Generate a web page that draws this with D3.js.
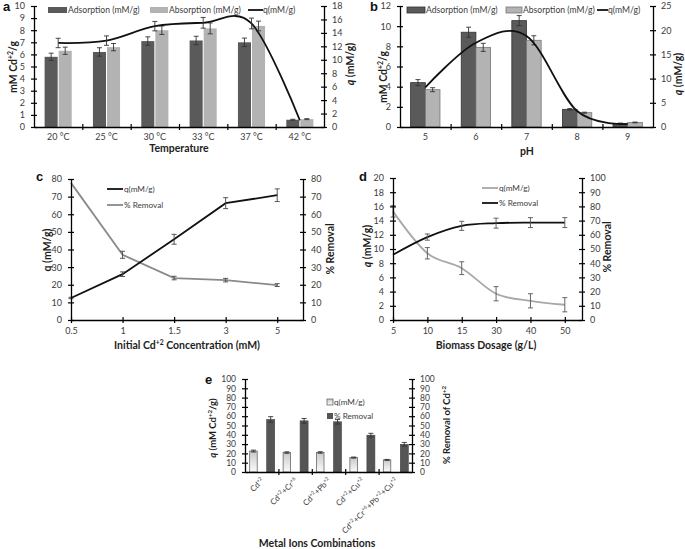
<!DOCTYPE html>
<html><head><meta charset="utf-8">
<script src="https://cdn.jsdelivr.net/npm/d3@7"></script>
<style>
body{margin:0;background:#fff;}
svg{display:block;}
</style></head><body>
<svg id="chart" width="685" height="549"></svg>
<script>
// ---------------- DATA ----------------
const tempCats = ["20 °C","25 °C","30 °C","33 °C","37 °C","42 °C"];
const tempAdsorption = [5.8,6.2,7.1,7.15,7.0,0.6];
const tempAdsorptionErr = [0.3,0.35,0.35,0.35,0.35,0.04];
const tempAbsorption = [6.3,6.6,8.0,8.15,8.35,0.65];
const tempAbsorptionErr = [0.3,0.3,0.35,0.45,0.4,0.04];
const tempQ = [12.5,12.85,15.0,15.5,15.4,1.0];
const tempQErr = [0.7,0.7,0.7,0.8,0.8,0];
const tempLeftTicks = [0,1,2,3,4,5,6,7,8,9,10];
const tempRightTicks = [0,2,4,6,8,10,12,14,16,18];

const phCats = ["5","6","7","8","9"];
const phAdsorption = [4.4,9.4,10.55,1.75,0.35];
const phAdsorptionErr = [0.3,0.5,0.5,0.08,0.04];
const phAbsorption = [3.7,7.9,8.6,1.42,0.45];
const phAbsorptionErr = [0.2,0.4,0.45,0.05,0.04];
const phQ = [8.2,17.4,18.8,3.3,0.6];
const phLeftTicks = [0,2,4,6,8,10,12];
const phRightTicks = [0,5,10,15,20,25];

const concCats = ["0.5","1","1.5","3","5"];
const concQ = [12.5,26,45.8,66.3,70.8];
const concQErr = [0.4,1.3,2.8,3.1,3.6];
const concRemoval = [77.8,37,23.8,22.6,19.8];
const concRemovalErr = [0,2,1,1,0.8];
const concTicks = [0,10,20,30,40,50,60,70,80];

const doseCats = ["5","10","15","30","40","50"];
const doseQ = [15.3,9.4,7.3,3.7,2.7,2.15];
const doseQErr = [0.8,0.8,0.9,1.0,1.0,1.0];
const doseRemoval = [46,58.4,66.3,68.2,68.6,68.6];
const doseRemovalErr = [0,2.2,3.2,3.5,3.5,3.5];
const doseLeftTicks = [0,2,4,6,8,10,12,14,16,18,20];
const doseRightTicks = [0,10,20,30,40,50,60,70,80,90,100];

const metalCats = ["Cd^{+2}","Cd^{+2}+Cr^{+6}","Cd^{+2}+Pb^{+2}","Cd^{+2}+Cu^{+2}","Cd^{+2}+Cr^{+6}+Pb^{+2}+Cu^{+2}"];
const metalQ = [22.5,20.9,21,15.5,13];
const metalQErr = [1,0.8,0.8,0.6,0.5];
const metalRemoval = [56.5,55,54,39.6,29.8];
const metalRemovalErr = [3,2.5,2.5,2,2];
const metalTicks = [0,10,20,30,40,50,60,70,80,90,100];

// ---------------- HELPERS ----------------
const FONT = "Lato, 'Open Sans', sans-serif";
const svg = d3.select("#chart").attr("font-family", FONT);
const DARK = "#5a5a5a", LIGHT = "#b3b3b3", TXT = "#3c3c3c";

function rich(sel, str, size) {
  const parts = str.split(/(\^\{[^}]*\}|\*[^*]+\*)/).filter(s => s.length);
  let shifted = false;
  parts.forEach(p => {
    if (p.startsWith("^{")) {
      sel.append("tspan").attr("dy", -size * 0.4).attr("font-size", size * 0.65).text(p.slice(2, -1));
      shifted = true;
    } else {
      const t = sel.append("tspan");
      if (shifted) { t.attr("dy", size * 0.4); shifted = false; }
      if (p.startsWith("*")) t.attr("font-style", "italic").text(p.slice(1, -1));
      else t.text(p);
    }
  });
}
function styleAxis(g, fs) {
  g.attr("font-family", FONT).attr("font-size", fs);
  g.select(".domain").attr("stroke", "#000").attr("stroke-width", 1.3);
  g.selectAll(".tick line").attr("stroke", "#000").attr("stroke-width", 1.2);
  g.selectAll(".tick text").attr("fill", TXT);
}
function yAxis(scale, x, side, ticks, fs) {
  const ax = (side === "left" ? d3.axisLeft(scale) : d3.axisRight(scale))
    .tickValues(ticks).tickSizeInner(3).tickSizeOuter(0).tickPadding(side === "left" ? 6 : 5);
  const g = svg.append("g").attr("transform", `translate(${x},0)`).call(ax);
  g.selectAll(".tick line").attr("x1", side === "left" ? 3 : -3);
  styleAxis(g, fs);
  return g;
}
function xBandAxis(x0, x1, y, n) {
  const s = d3.scaleLinear().domain([0, n]).range([x0, x1]);
  const ax = d3.axisBottom(s).tickValues(d3.range(1, n)).tickFormat("").tickSizeInner(3).tickSizeOuter(0);
  const g = svg.append("g").attr("transform", `translate(0,${y})`).call(ax);
  g.selectAll(".tick line").attr("y1", -3);
  styleAxis(g, 9);
}
function xIndexAxis(scale, y, cats, fs) {
  const ax = d3.axisBottom(scale).tickValues(d3.range(cats.length)).tickFormat(i => cats[i])
    .tickSizeInner(3).tickSizeOuter(0).tickPadding(5);
  const g = svg.append("g").attr("transform", `translate(0,${y})`).call(ax);
  g.selectAll(".tick line").attr("y1", -3);
  styleAxis(g, fs);
}
function title(x, y, str, fs, rot) {
  const t = svg.append("text").attr("transform", `translate(${x},${y}) rotate(${rot || 0})`)
    .attr("text-anchor", "middle").attr("font-size", fs).attr("font-weight", "bold").attr("fill", "#1e1e1e");
  rich(t, str, fs);
  return t;
}
function panelLetter(x, y, s) {
  svg.append("text").attr("x", x).attr("y", y).attr("font-size", 13).attr("font-weight", "bold")
    .attr("font-family", "Arial, 'Liberation Sans', sans-serif").attr("fill", "#111").text(s);
}
function errBars(xs, vals, errs, scale, color, cap) {
  const data = xs.map((x, i) => ({ x, v: vals[i], e: errs[i] })).filter(d => d.e > 0);
  const g = svg.append("g").attr("stroke", color).attr("stroke-width", 0.9);
  data.forEach(d => {
    const yt = scale(d.v + d.e), yb = scale(d.v - d.e);
    g.append("line").attr("x1", d.x).attr("x2", d.x).attr("y1", yt).attr("y2", yb);
    g.append("line").attr("x1", d.x - cap).attr("x2", d.x + cap).attr("y1", yt).attr("y2", yt);
    g.append("line").attr("x1", d.x - cap).attr("x2", d.x + cap).attr("y1", yb).attr("y2", yb);
  });
}
function legendText(x, y, str, fs) {
  const t = svg.append("text").attr("x", x).attr("y", y).attr("dy", "0.35em").attr("font-size", fs).attr("fill", TXT);
  rich(t, str, fs);
}

// ---------------- PANEL A ----------------
{
  const xA = d3.scaleBand().domain(tempCats).range([34, 324]);
  const yL = d3.scaleLinear().domain([0, 10]).range([127, 6]);
  const yR = d3.scaleLinear().domain([0, 18]).range([127, 6]);
  const bw = xA.bandwidth() * 0.27;
  const cx = c => xA(c) + xA.bandwidth() / 2;
  svg.append("g").selectAll("rect").data(tempCats).join("rect")
    .attr("x", d => cx(d) - bw - 0.5).attr("width", bw)
    .attr("y", (d, i) => yL(tempAdsorption[i])).attr("height", (d, i) => yL(0) - yL(tempAdsorption[i]))
    .attr("fill", DARK);
  svg.append("g").selectAll("rect").data(tempCats).join("rect")
    .attr("x", d => cx(d) + 0.5).attr("width", bw)
    .attr("y", (d, i) => yL(tempAbsorption[i])).attr("height", (d, i) => yL(0) - yL(tempAbsorption[i]))
    .attr("fill", LIGHT);
  errBars(tempCats.map(c => cx(c) - bw / 2 - 0.5), tempAdsorption, tempAdsorptionErr, yL, "#333", 2.5);
  errBars(tempCats.map(c => cx(c) + bw / 2 + 0.5), tempAbsorption, tempAbsorptionErr, yL, "#333", 2.5);
  const line = d3.line().x((d, i) => cx(tempCats[i])).y(d => yR(d)).curve(d3.curveCardinal.tension(0));
  svg.append("path").attr("d", line(tempQ)).attr("fill", "none").attr("stroke", "#111").attr("stroke-width", 1.8);
  errBars(tempCats.map(cx), tempQ, tempQErr, yR, "#333", 2.5);
  yAxis(yL, 34, "left", tempLeftTicks, 9);
  yAxis(yR, 324, "right", tempRightTicks, 9);
  xBandAxis(34, 324, 127, tempCats.length);
  svg.append("g").selectAll("text").data(tempCats).join("text")
    .attr("x", cx).attr("y", 140).attr("text-anchor", "middle").attr("font-size", 9).attr("fill", TXT).text(d => d);
  // legend
  svg.append("rect").attr("x", 48).attr("y", 7).attr("width", 19).attr("height", 6).attr("fill", DARK);
  legendText(68, 10, "Adsorption (mM/g)", 8.6);
  svg.append("rect").attr("x", 150).attr("y", 7).attr("width", 18).attr("height", 6).attr("fill", LIGHT);
  legendText(169, 10, "Absorption (mM/g)", 8.6);
  svg.append("line").attr("x1", 248).attr("x2", 263).attr("y1", 10).attr("y2", 10).attr("stroke", "#111").attr("stroke-width", 1.8);
  legendText(263, 10, "q(mM/g)", 8.6);
  title(17, 67, "mM Cd^{+2}/g", 10.5, -90);
  title(354, 64, "*q* (mM/g)", 10.5, -90);
  title(179, 152, "Temperature", 10.5, 0);
  panelLetter(3, 11, "a");
}

// ---------------- PANEL B ----------------
{
  const xB = d3.scaleBand().domain(phCats).range([400, 653]);
  const yL = d3.scaleLinear().domain([0, 12]).range([127, 6]);
  const yR = d3.scaleLinear().domain([0, 25]).range([127, 6]);
  const bw = xB.bandwidth() * 0.29;
  const cx = c => xB(c) + xB.bandwidth() / 2;
  svg.append("g").selectAll("rect").data(phCats).join("rect")
    .attr("x", d => cx(d) - bw).attr("width", bw)
    .attr("y", (d, i) => yL(phAdsorption[i])).attr("height", (d, i) => yL(0) - yL(phAdsorption[i]))
    .attr("fill", DARK).attr("stroke", "#333").attr("stroke-width", 0.8);
  svg.append("g").selectAll("rect").data(phCats).join("rect")
    .attr("x", d => cx(d)).attr("width", bw)
    .attr("y", (d, i) => yL(phAbsorption[i])).attr("height", (d, i) => yL(0) - yL(phAbsorption[i]))
    .attr("fill", LIGHT).attr("stroke", "#777").attr("stroke-width", 0.8);
  errBars(phCats.map(c => cx(c) - bw / 2), phAdsorption, phAdsorptionErr, yL, "#333", 2.5);
  errBars(phCats.map(c => cx(c) + bw / 2), phAbsorption, phAbsorptionErr, yL, "#333", 2.5);
  const line = d3.line().x((d, i) => cx(phCats[i])).y(d => yR(d)).curve(d3.curveCardinal.tension(0));
  svg.append("path").attr("d", line(phQ)).attr("fill", "none").attr("stroke", "#111").attr("stroke-width", 1.8);
  yAxis(yL, 400, "left", phLeftTicks, 9);
  yAxis(yR, 653, "right", phRightTicks, 9);
  xBandAxis(400, 653, 127, phCats.length);
  svg.append("g").selectAll("text").data(phCats).join("text")
    .attr("x", cx).attr("y", 140).attr("text-anchor", "middle").attr("font-size", 9).attr("fill", TXT).text(d => d);
  svg.append("rect").attr("x", 407).attr("y", 7).attr("width", 18).attr("height", 6).attr("fill", DARK).attr("stroke", "#333").attr("stroke-width", 0.8);
  legendText(426, 10, "Adsorption (mM/g)", 8.6);
  svg.append("rect").attr("x", 506).attr("y", 7).attr("width", 16).attr("height", 6).attr("fill", LIGHT).attr("stroke", "#777").attr("stroke-width", 0.8);
  legendText(523, 10, "Absorption (mM/g)", 8.6);
  svg.append("line").attr("x1", 597).attr("x2", 608).attr("y1", 10).attr("y2", 10).attr("stroke", "#111").attr("stroke-width", 1.8);
  legendText(608, 10, "q(mM/g)", 8.6);
  title(387, 77, "mM Cd^{+2}/g", 10.5, -90);
  title(682, 74, "*q* (mM/g)", 10.5, -90);
  title(527, 155, "pH", 10.5, 0);
  panelLetter(370, 11, "b");
}

// ---------------- PANEL C ----------------
{
  const xC = d3.scaleLinear().domain([0, 4.5]).range([71, 303]);
  const yL = d3.scaleLinear().domain([0, 80]).range([320, 179]);
  const yR = d3.scaleLinear().domain([0, 80]).range([320, 179]);
  const xs = concCats.map((c, i) => xC(i));
  const line = d3.line().x((d, i) => xC(i));
  svg.append("path").attr("d", line.y(d => yR(d))(concRemoval)).attr("fill", "none").attr("stroke", "#8a8a8a").attr("stroke-width", 1.8);
  svg.append("path").attr("d", line.y(d => yL(d))(concQ)).attr("fill", "none").attr("stroke", "#111").attr("stroke-width", 1.8);
  errBars(xs, concRemoval, concRemovalErr, yR, "#444", 2.5);
  errBars(xs, concQ, concQErr, yL, "#444", 2.5);
  yAxis(yL, 71, "left", concTicks, 9);
  yAxis(yR, 303, "right", concTicks, 9);
  xIndexAxis(xC, 320, concCats, 9);
  svg.append("line").attr("x1", 107).attr("x2", 123).attr("y1", 189).attr("y2", 189).attr("stroke", "#111").attr("stroke-width", 1.8);
  legendText(124, 189, "q(mM/g)", 8.2);
  svg.append("line").attr("x1", 107).attr("x2", 123).attr("y1", 205).attr("y2", 205).attr("stroke", "#8a8a8a").attr("stroke-width", 1.8);
  legendText(124, 205, "% Removal", 8.2);
  title(51, 250, "q (mM/g)", 10.5, -90);
  title(334, 249, "% Removal", 10.5, -90);
  title(187, 349, "Initial Cd^{+2} Concentration (mM)", 10.5, 0);
  panelLetter(36, 181, "c");
}

// ---------------- PANEL D ----------------
{
  const xD = d3.scaleLinear().domain([0, 5.5]).range([393, 582]);
  const yL = d3.scaleLinear().domain([0, 20]).range([320, 178]);
  const yR = d3.scaleLinear().domain([0, 100]).range([320, 178]);
  const xs = doseCats.map((c, i) => xD(i));
  const line = d3.line().x((d, i) => xD(i)).curve(d3.curveCardinal.tension(0));
  svg.append("path").attr("d", line.y(d => yL(d))(doseQ)).attr("fill", "none").attr("stroke", "#a8a8a8").attr("stroke-width", 1.8);
  svg.append("path").attr("d", line.y(d => yR(d))(doseRemoval)).attr("fill", "none").attr("stroke", "#111").attr("stroke-width", 1.8);
  errBars(xs, doseQ, doseQErr, yL, "#555", 2.5);
  errBars(xs, doseRemoval, doseRemovalErr, yR, "#555", 2.5);
  yAxis(yL, 393, "left", doseLeftTicks, 9);
  yAxis(yR, 582, "right", doseRightTicks, 9);
  xIndexAxis(xD, 320, doseCats, 9);
  svg.append("line").attr("x1", 482).attr("x2", 498).attr("y1", 188).attr("y2", 188).attr("stroke", "#a8a8a8").attr("stroke-width", 1.8);
  legendText(499, 188, "q(mM/g)", 8.2);
  svg.append("line").attr("x1", 482).attr("x2", 498).attr("y1", 203).attr("y2", 203).attr("stroke", "#111").attr("stroke-width", 1.8);
  legendText(499, 203, "% Removal", 8.2);
  title(371, 246, "*q* (mM/g)", 10.5, -90);
  title(611, 247, "% Removal", 10.5, -90);
  title(486, 349, "Biomass Dosage (g/L)", 10.5, 0);
  panelLetter(359, 181, "d");
}

// ---------------- PANEL E ----------------
{
  const defs = svg.append("defs");
  const grad = defs.append("linearGradient").attr("id", "lightGrad").attr("x1", 0).attr("y1", 0).attr("x2", 0).attr("y2", 1);
  grad.append("stop").attr("offset", "0%").attr("stop-color", "#c9c9c9");
  grad.append("stop").attr("offset", "100%").attr("stop-color", "#fbfbfb");
  const xE = d3.scaleBand().domain(metalCats).range([245, 412]);
  const yL = d3.scaleLinear().domain([0, 100]).range([472, 379]);
  const yR = d3.scaleLinear().domain([0, 100]).range([472, 379]);
  const cx = c => xE(c) + xE.bandwidth() / 2;
  svg.append("g").selectAll("rect").data(metalCats).join("rect")
    .attr("x", d => cx(d) - 12).attr("width", 7.5)
    .attr("y", (d, i) => yL(metalQ[i])).attr("height", (d, i) => yL(0) - yL(metalQ[i]))
    .attr("fill", "url(#lightGrad)").attr("stroke", "#555").attr("stroke-width", 0.7);
  svg.append("g").selectAll("rect").data(metalCats).join("rect")
    .attr("x", d => cx(d) + 5).attr("width", 8)
    .attr("y", (d, i) => yR(metalRemoval[i])).attr("height", (d, i) => yR(0) - yR(metalRemoval[i]))
    .attr("fill", "#555").attr("stroke", "#444").attr("stroke-width", 0.6);
  errBars(metalCats.map(c => cx(c) - 8.25), metalQ, metalQErr, yL, "#333", 2.5);
  errBars(metalCats.map(c => cx(c) + 9), metalRemoval, metalRemovalErr, yR, "#333", 2.5);
  yAxis(yL, 245, "left", metalTicks, 8.5);
  yAxis(yR, 412, "right", metalTicks, 8.5);
  xBandAxis(245, 412, 472, metalCats.length);
  metalCats.forEach(c => {
    const t = svg.append("text").attr("transform", `translate(${cx(c) + 3},481) rotate(-45)`)
      .attr("text-anchor", "end").attr("font-size", 8).attr("fill", TXT);
    rich(t, c, 8);
  });
  svg.append("rect").attr("x", 327).attr("y", 399).attr("width", 6).attr("height", 6).attr("fill", "url(#lightGrad)").attr("stroke", "#555").attr("stroke-width", 0.7);
  legendText(334, 402, "q(mM/g)", 8.2);
  svg.append("rect").attr("x", 327).attr("y", 413).attr("width", 6).attr("height", 6).attr("fill", "#555");
  legendText(334, 416, "% Removal", 8.2);
  title(216, 428, "*q* (mM Cd^{+2}/g)", 9.5, -90);
  title(450, 425, "% Removal of Cd^{+2}", 9.5, -90);
  title(317, 547, "Metal Ions Combinations", 10.5, 0);
  panelLetter(205, 384, "e");
}
</script>
</body></html>
